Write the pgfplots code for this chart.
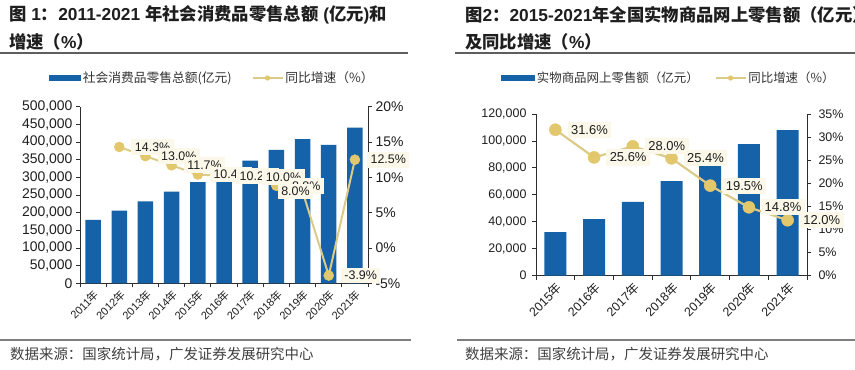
\documentclass[border=0pt]{standalone}
\usepackage{pgfplots}
\pgfplotsset{compat=1.18}
\usepackage{pgfplotstable}
\usepackage{fontspec}
\setmainfont{Liberation Sans}
\newfontfamily\cjk{Noto Sans CJK SC}
\newcommand\nian{{\cjk 年}}
\definecolor{barblue}{HTML}{1562A9}
\definecolor{linecol}{HTML}{DCCB88}
\definecolor{markcol}{HTML}{E2C76C}
\definecolor{boxcol}{HTML}{FBF8EA}
\definecolor{rulecol}{HTML}{5E5E5E}
\definecolor{axcol}{HTML}{2E2E2E}
\definecolor{txtcol}{HTML}{1E1E1E}

\pgfplotstableread{
x sales
0 179804
1 205517
2 232253
3 259487
4 286588
5 315806
6 347327
7 377783
8 408017
9 391981
10 440823
}\retail

\pgfplotstableread{
x g dx
1 14.3 12
2 13.0 12
3 11.7 12
4 10.4 12
5 10.2 12
6 10.0 12
7 8.8 12
8 8.0 -25
9 -3.9 12
10 12.5 12
}\retailg

\pgfplotstableread{
x sales
0 32424
1 41944
2 54806
3 70198
4 85239
5 97590
6 108042
}\online

\pgfplotstableread{
x g dx
0 31.6 12
1 25.6 12
2 28.0 12
3 25.4 12
4 19.5 12
5 14.8 12
6 12.0 12
}\onlineg

\pgfplotsset{
  twin/.style={scale only axis, clip=false,
    /pgf/number format/assume math mode=true,
    tick align=outside, major tick length=4bp, minor tick length=4bp,
    axis line style={axcol, line width=1bp},
    tick style={axcol, line width=0.9bp},
    every tick label/.append style={text=txtcol}},
  lbl/.style={forget plot, draw=none, mark=none, point meta=y,
    visualization depends on={\thisrow{dx} \as \dx},
    nodes near coords={\pgfmathprintnumber[fixed,fixed zerofill,precision=1]{\pgfplotspointmeta}\%},
    every node near coord/.append style={anchor=west, xshift={\dx*1bp}, fill=boxcol,
      inner sep=3.5bp, text=txtcol, font=\fontsize{#1}{#1}\selectfont}},
  legline/.style={legend image code/.code={%
      \draw[mark repeat=2, mark phase=2, ##1, mark size=2.3bp, line width=1.6bp]
        plot coordinates {(0bp,0bp) (15bp,0bp) (30bp,0bp)};}},
}

\begin{document}
\begin{tikzpicture}[x=1bp,y=1bp]
\path[use as bounding box] (0,0) rectangle (855,369);

% ---- titles and rules
\node[anchor=west, text=txtcol, inner sep=0pt, font=\fontsize{17.4}{20}\selectfont\bfseries]
  at (9,354) {{\cjk 图} 1{\cjk ：}2011-2021 {\cjk 年社会消费品零售总额} ({\cjk 亿元}){\cjk 和}};
\node[anchor=west, text=txtcol, inner sep=0pt, font=\fontsize{17.4}{20}\selectfont\bfseries]
  at (9,327) {{\cjk 增速（}\%{\cjk ）}};
\node[anchor=west, text=txtcol, inner sep=0pt, font=\fontsize{17.4}{20}\selectfont\bfseries]
  at (465,354) {{\cjk 图}2{\cjk ：}2015-2021{\cjk 年全国实物商品网上零售额（亿元）}};
\node[anchor=west, text=txtcol, inner sep=0pt, font=\fontsize{17.4}{20}\selectfont\bfseries]
  at (465,327) {{\cjk 及同比增速（}\%{\cjk ）}};
\draw[rulecol, line width=2bp] (0,316) -- (408,316);
\draw[rulecol, line width=2bp] (455,316) -- (855,316);
\draw[rulecol!80, line width=1.2bp] (0,29) -- (411,29);
\draw[rulecol!80, line width=1.2bp] (457,29) -- (855,29);
\node[anchor=west, inner sep=0pt, text=black!75, font=\cjk\fontsize{14.5}{15}\selectfont]
  at (10,15) {数据来源：国家统计局，广发证券发展研究中心};
\node[anchor=west, inner sep=0pt, text=black!75, font=\cjk\fontsize{14.5}{15}\selectfont]
  at (465,15) {数据来源：国家统计局，广发证券发展研究中心};

% ================= Chart 1 =================
\begin{axis}[twin,
  at={(80bp,85.7bp)}, anchor=south west, width=288bp, height=176.6bp,
  xmin=-0.5, xmax=10.5, ymin=0, ymax=500000,
  axis x line*=bottom, axis y line*=left,
  ybar, bar width=15.5bp,
  ytick={0,50000,...,500000}, scaled y ticks=false,
  yticklabel={\pgfmathprintnumber[fixed,precision=0,1000 sep={,}]{\tick}},
  yticklabel style={font=\fontsize{14}{14}\selectfont},
  xtick={0,...,10},
  xticklabels={2011\nian,2012\nian,2013\nian,2014\nian,2015\nian,2016\nian,2017\nian,2018\nian,2019\nian,2020\nian,2021\nian},
  xticklabel style={rotate=45, anchor=north east, inner sep=1bp, font=\fontsize{11}{12}\selectfont},
  major x tick style={draw=none},
  minor xtick={-0.5,0.5,...,10.5},
]
\addplot[fill=barblue, draw=none] table[x=x,y=sales]{\retail};
\end{axis}
\begin{axis}[twin,
  at={(80bp,85.7bp)}, anchor=south west, width=288bp, height=176.6bp,
  xmin=-0.5, xmax=10.5, ymin=-5, ymax=20,
  axis x line=none, axis y line*=right,
  ytick={-5,0,...,20},
  yticklabel={\pgfmathprintnumber[fixed,precision=0]{\tick}\%},
  yticklabel style={font=\fontsize{14}{14}\selectfont},
  legend columns=-1,
  legend style={at={(0.5,1)}, anchor=center, xshift=-11.5bp, yshift=28.7bp,
    draw=none, fill=none, text=black!80, font=\cjk\fontsize{12.8}{13}\selectfont,
    nodes={inner sep=2bp},
    /tikz/every even column/.append style={column sep=18bp}},
]
\addlegendimage{legend image code/.code={\fill[barblue] (0bp,-2.5bp) rectangle (31bp,2.5bp);}}
\addlegendentry{社会消费品零售总额(亿元)}
\addplot[linecol, line width=2bp, mark=*, mark size=5bp,
  mark options={fill=markcol, draw=markcol, line width=0.5bp}, legline]
  table[x=x,y=g]{\retailg};
\addlegendentry{同比增速（\%）}
\addplot[lbl=12.5] table[x=x,y=g]{\retailg};
\end{axis}

% ================= Chart 2 =================
\begin{axis}[twin,
  at={(536bp,93.3bp)}, anchor=south west, width=271bp, height=161.7bp,
  xmin=-0.5, xmax=6.5, ymin=0, ymax=120000,
  axis x line*=bottom, axis y line*=left,
  ybar, bar width=22bp,
  ytick={0,20000,...,120000}, scaled y ticks=false,
  yticklabel={\pgfmathprintnumber[fixed,precision=0,1000 sep={,}]{\tick}},
  yticklabel style={font=\fontsize{12.5}{13}\selectfont, xshift=-2bp},
  xtick={0,...,6},
  xticklabels={2015\nian,2016\nian,2017\nian,2018\nian,2019\nian,2020\nian,2021\nian},
  xticklabel style={rotate=45, anchor=north east, inner sep=1bp, font=\fontsize{12.5}{13}\selectfont},
  major x tick style={draw=none},
  minor xtick={-0.5,0.5,...,6.5},
]
\addplot[fill=barblue, draw=none] table[x=x,y=sales]{\online};
\end{axis}
\begin{axis}[twin,
  at={(536bp,93.3bp)}, anchor=south west, width=271bp, height=161.7bp,
  xmin=-0.5, xmax=6.5, ymin=0, ymax=35,
  axis x line=none, axis y line*=right,
  ytick={0,5,...,35},
  yticklabel={\pgfmathprintnumber[fixed,precision=0]{\tick}\%},
  yticklabel style={font=\fontsize{12.5}{13}\selectfont, xshift=4bp},
  legend columns=-1,
  legend style={at={(0.5,1)}, anchor=center, xshift=-2.5bp, yshift=36bp,
    draw=none, fill=none, text=black!80, font=\cjk\fontsize{12.5}{13}\selectfont,
    nodes={inner sep=2bp},
    /tikz/every even column/.append style={column sep=14bp}},
]
\addlegendimage{legend image code/.code={\fill[barblue] (0bp,-2.5bp) rectangle (33bp,2.5bp);}}
\addlegendentry{实物商品网上零售额（亿元）}
\addplot[linecol, line width=2.2bp, mark=*, mark size=6bp,
  mark options={fill=markcol, draw=markcol, line width=0.5bp}, legline]
  table[x=x,y=g]{\onlineg};
\addlegendentry{同比增速（\%）}
\addplot[lbl=13] table[x=x,y=g]{\onlineg};
\end{axis}
\end{tikzpicture}
\end{document}
